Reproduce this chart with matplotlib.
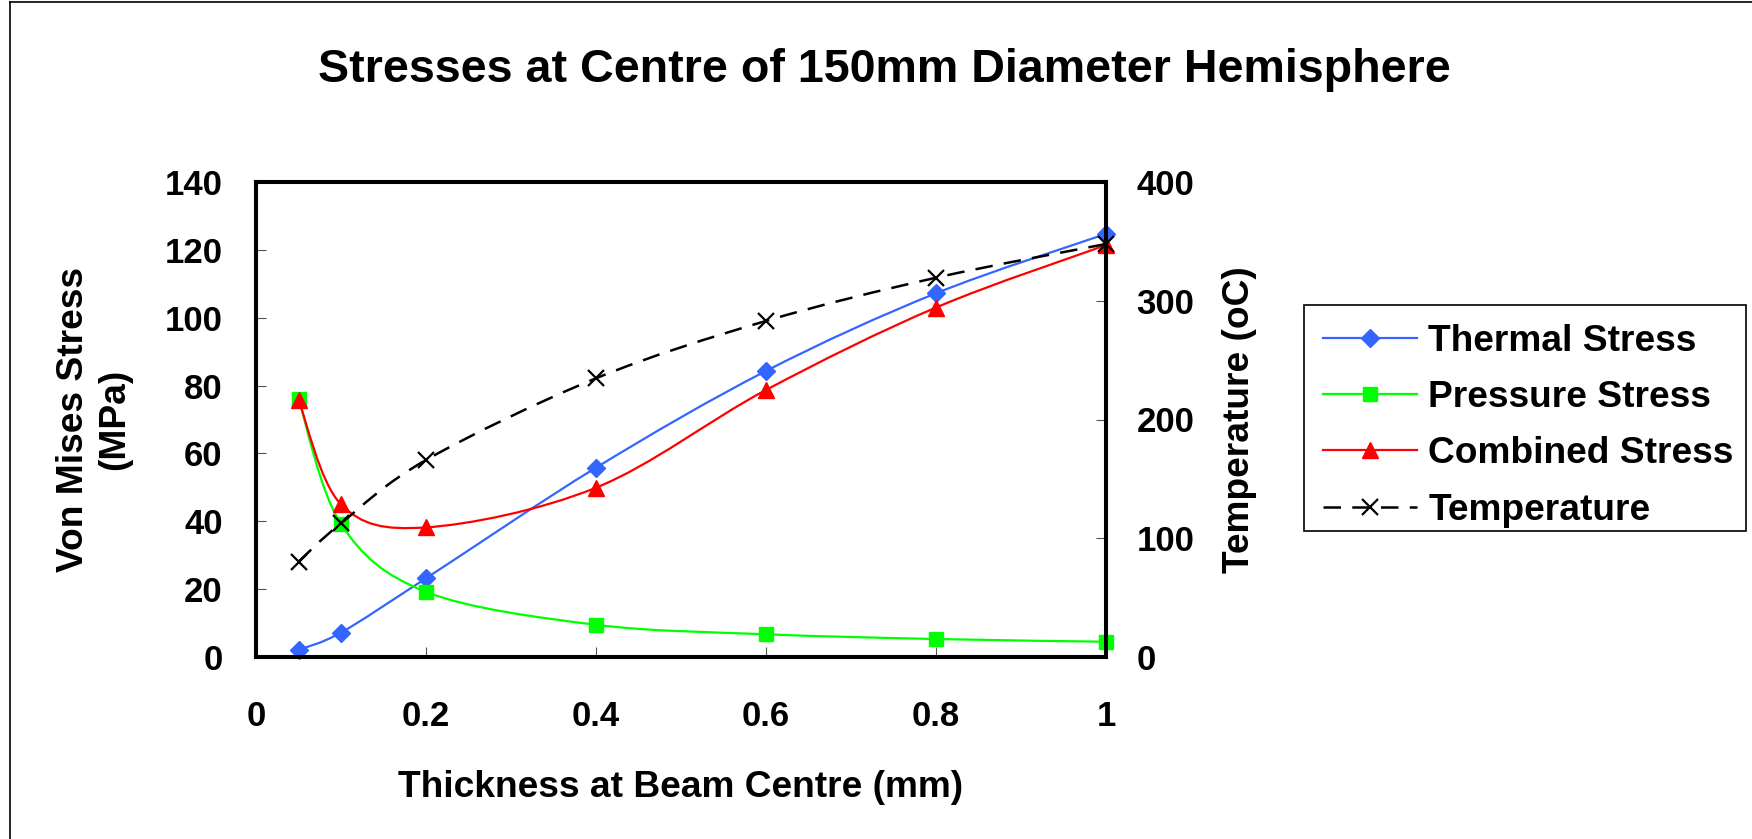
import numpy as np
import matplotlib
matplotlib.use("Agg")
import matplotlib.pyplot as plt
from matplotlib.path import Path
from matplotlib.patches import PathPatch, Rectangle
from matplotlib.lines import Line2D

plt.rcParams['font.family'] = ['Liberation Sans', 'DejaVu Sans']
plt.rcParams['font.weight'] = 'bold'

# --- data ---
thickness = [0.05, 0.1, 0.2, 0.4, 0.6, 0.8, 1.0]
thermal_stress = [2.1, 7.2, 23.2, 55.8, 84.3, 107.2, 124.7]
pressure_stress = [76.1, 39.2, 19.2, 9.5, 6.7, 5.3, 4.5]
combined_stress = [75.8, 45.0, 38.2, 49.9, 78.7, 103.0, 121.4]
temperature = [80.3, 112.6, 165.9, 234.7, 283.0, 319.4, 347.8]

x_ticks = [0, 0.2, 0.4, 0.6, 0.8, 1.0]
x_ticklabels = ["0", "0.2", "0.4", "0.6", "0.8", "1"]
left_ticks = list(range(0, 141, 20))
right_ticks = list(range(0, 401, 100))


def smooth_path(xs, ys):
    # Excel-style smoothed line: cubic bezier through the points
    pts = np.column_stack([xs, ys]).astype(float)
    n = len(pts)
    verts = [pts[0]]
    codes = [Path.MOVETO]
    for i in range(n - 1):
        p_prev = pts[max(i - 1, 0)]
        p0 = pts[i]
        p1 = pts[i + 1]
        p_next = pts[min(i + 2, n - 1)]
        c1 = p0 + (p1 - p_prev) / 6.0
        c2 = p1 - (p_next - p0) / 6.0
        verts += [c1, c2, p1]
        codes += [Path.CURVE4] * 3
    return Path(verts, codes)


W, H = 1752, 839
fig = plt.figure(figsize=(W / 100, H / 100), dpi=100)
ax = fig.add_axes([256 / W, 1 - 657 / H, 850 / W, 475 / H])
ax2 = ax.twinx()

series = [
    (thermal_stress, '#3366FF', 'D', 8.7, 'Thermal Stress'),
    (pressure_stress, '#00FF00', 's', 10, 'Pressure Stress'),
    (combined_stress, '#FF0000', '^', 12, 'Combined Stress'),
]
handles = []
for vals, col, mk, ms, lab in series:
    ax.add_patch(PathPatch(smooth_path(thickness, vals), fill=False,
                           edgecolor=col, lw=1.6, zorder=3))
    ax.plot(thickness, vals, ls='none', marker=mk, ms=ms, color=col,
            zorder=4, clip_on=False)
    handles.append(Line2D([], [], color=col, lw=1.6, marker=mk, ms=ms, label=lab))

ax2.add_patch(PathPatch(smooth_path(thickness, temperature), fill=False,
                        edgecolor='black', lw=1.8, linestyle=(0, (7, 4.5)), zorder=3))
ax2.plot(thickness, temperature, ls='none', marker='x', ms=12, mew=1.6,
         color='black', zorder=5, clip_on=False)
handles.append(Line2D([], [], color='black', lw=1.8, dashes=(7, 4.5),
                      marker='x', ms=12, mew=1.6, label='Temperature'))

ax.set_xlim(0, 1)
ax.set_ylim(0, 140)
ax2.set_ylim(0, 400)
ax.set_xticks(x_ticks)
ax.set_xticklabels(x_ticklabels)
ax.set_yticks(left_ticks)
ax2.set_yticks(right_ticks)

for a in (ax, ax2):
    for sp in a.spines.values():
        sp.set_linewidth(2.9)
        sp.set_color('black')
ax.tick_params(axis='y', direction='in', length=7, width=0.8, color='#555555',
               labelsize=25, pad=24)
ax.tick_params(axis='x', direction='in', length=7, width=0.8, color='#555555',
               labelsize=25, pad=31)
ax2.tick_params(axis='y', direction='in', length=7, width=0.8, color='#555555',
                labelsize=25, pad=22)
for lbl in ax.get_xticklabels() + ax.get_yticklabels() + ax2.get_yticklabels():
    lbl.set_fontweight('bold')

ax.text(-0.1906, 0.5, "Von Mises Stress\n(MPa)", transform=ax.transAxes,
        rotation=90, ha='center', va='center', fontsize=26.7,
        fontweight='bold', linespacing=1.25)
ax.text(1.1565, 0.5, "Temperature (oC)", transform=ax.transAxes,
        rotation=90, ha='center', va='center', fontsize=26.7, fontweight='bold')
ax.text(0.5, (657 - 797) / 475, "Thickness at Beam Centre (mm)",
        transform=ax.transAxes, ha='center', va='baseline', fontsize=26.7,
        fontweight='bold')

fig.text(884.5 / W, 1 - 82 / H, "Stresses at Centre of 150mm Diameter Hemisphere",
         ha='center', va='baseline', fontsize=33.6, fontweight='bold')

# legend entries (frame drawn separately to match the box size)
leg = fig.legend(handles=handles, loc='upper left',
                 bbox_to_anchor=(1304 / W, 1 - 305 / H),
                 fontsize=26.7, handlelength=2.55, frameon=False,
                 borderaxespad=0, labelspacing=0.575, handletextpad=0.3,
                 borderpad=0.5)
for t in leg.get_texts():
    t.set_fontweight('bold')
fig.add_artist(Rectangle((1304 / W, 1 - 531 / H), 442 / W, 226 / H,
                         transform=fig.transFigure, fill=False,
                         edgecolor='black', lw=1.2))

# outer chart border (left and top visible)
fig.add_artist(Line2D([10 / W, 10 / W], [0, 1 - 1.5 / H], transform=fig.transFigure,
                      color='black', lw=1.2))
fig.add_artist(Line2D([10 / W, 1], [1 - 1.5 / H, 1 - 1.5 / H], transform=fig.transFigure,
                      color='black', lw=1.2))

fig.savefig("out.png", dpi=100)
